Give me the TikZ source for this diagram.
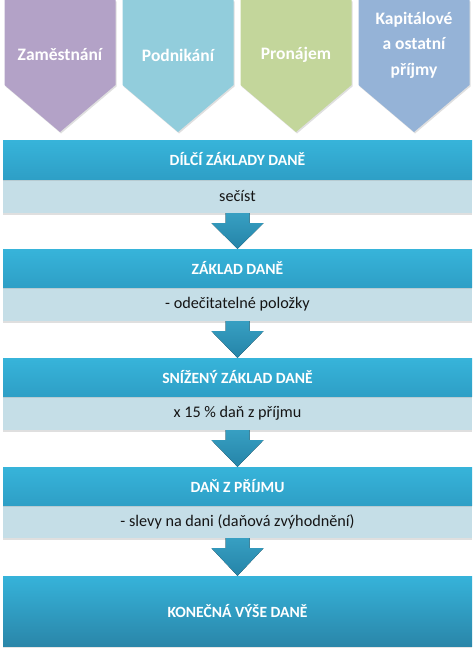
\documentclass[tikz,border=0pt]{standalone}
\usepackage{fontspec}
\setmainfont{Carlito}
\usetikzlibrary{calc,shadows}
\definecolor{purp}{HTML}{B3A2C7}
\definecolor{aqua}{HTML}{92CDDC}
\definecolor{olive}{HTML}{C3D69B}
\definecolor{steel}{HTML}{95B3D7}
\definecolor{bartop}{HTML}{37B4DA}
\definecolor{barbot}{HTML}{2E9FC6}
\definecolor{fintop}{HTML}{36B3DA}
\definecolor{finbot}{HTML}{2A86A9}
\definecolor{lightbar}{HTML}{C5DEE7}
\definecolor{arrtop}{HTML}{379FC2}
\definecolor{arrbot}{HTML}{2584A8}
\definecolor{txt}{HTML}{151515}
\newcommand\pentshape[2]{%
  \fill[#2, drop shadow={shadow xshift=1pt, shadow yshift=-1.5pt, opacity=0.25}]
    (#1-55.5,0) -- (#1+55.5,0) -- (#1+55.5,85) -- (#1,132) -- (#1-55.5,85) -- cycle;}
\newcommand\blkarrow[2]{%
  \fill[top color=arrtop, bottom color=arrbot]
    ($(#1.south)+(-12,0)$) -- ($(#1.south)+(12,0)$) -- ($(#1.south)+(12,10)$)
    -- ($(#1.south)+(26,10)$) -- (#2.north) -- ($(#1.south)+(-26,10)$)
    -- ($(#1.south)+(-12,10)$) -- cycle;}
\begin{document}
\begin{tikzpicture}[x=1pt,y=-1pt,
  pentlabel/.style={text=white, font=\bfseries\fontsize{17.5}{25.5}\selectfont, align=center, inner sep=0pt},
  darkbar/.style={rectangle, minimum width=469pt, inner sep=0pt, top color=bartop, bottom color=barbot,
    text=white, font=\bfseries\fontsize{15.6}{18}\selectfont,
    drop shadow={shadow xshift=0pt, shadow yshift=-1.5pt, opacity=0.2}},
  lightbar/.style={rectangle, minimum width=469pt, minimum height=34pt, inner sep=0pt, fill=lightbar,
    text=txt, font=\fontsize{16.2}{19}\selectfont,
    drop shadow={shadow xshift=0pt, shadow yshift=-2pt, opacity=0.25}},
  ]
\useasboundingbox (0,0) rectangle (474,650);
\pentshape{60}{purp}
\pentshape{178}{aqua}
\pentshape{296}{olive}
\pentshape{414}{steel}
\node[pentlabel] (p1) at (60,55) {Zaměstnání};
\node[pentlabel] (p2) at (178,55) {Podnikání};
\node[pentlabel] (p3) at (296,55) {Pronájem};
\node[pentlabel] (p4) at (414,45) {Kapitálové\\a ostatní\\příjmy};

\node[lightbar] (l1) at (237.5,196) {sečíst};
\node[darkbar, minimum height=39pt] (b1) at (237.5,159.5) {DÍLČÍ ZÁKLADY DANĚ};

\node[lightbar] (l2) at (237.5,304) {- odečitatelné položky};
\node[darkbar, minimum height=38pt] (b2) at (237.5,268) {ZÁKLAD DANĚ};

\node[lightbar] (l3) at (237.5,413) {x 15 \% daň z příjmu};
\node[darkbar, minimum height=38pt] (b3) at (237.5,377) {SNÍŽENÝ ZÁKLAD DANĚ};

\node[lightbar, minimum height=33pt] (l4) at (237.5,521.5) {- slevy na dani (daňová zvýhodnění)};
\node[darkbar, minimum height=38pt] (b4) at (237.5,486) {DAŇ Z PŘÍJMU};

\node[darkbar, minimum height=70pt, top color=fintop, bottom color=finbot] (b5) at (237.5,611) {KONEČNÁ VÝŠE DANĚ};

\blkarrow{l1}{b2}
\blkarrow{l2}{b3}
\blkarrow{l3}{b4}
\blkarrow{l4}{b5}
\end{tikzpicture}
\end{document}
